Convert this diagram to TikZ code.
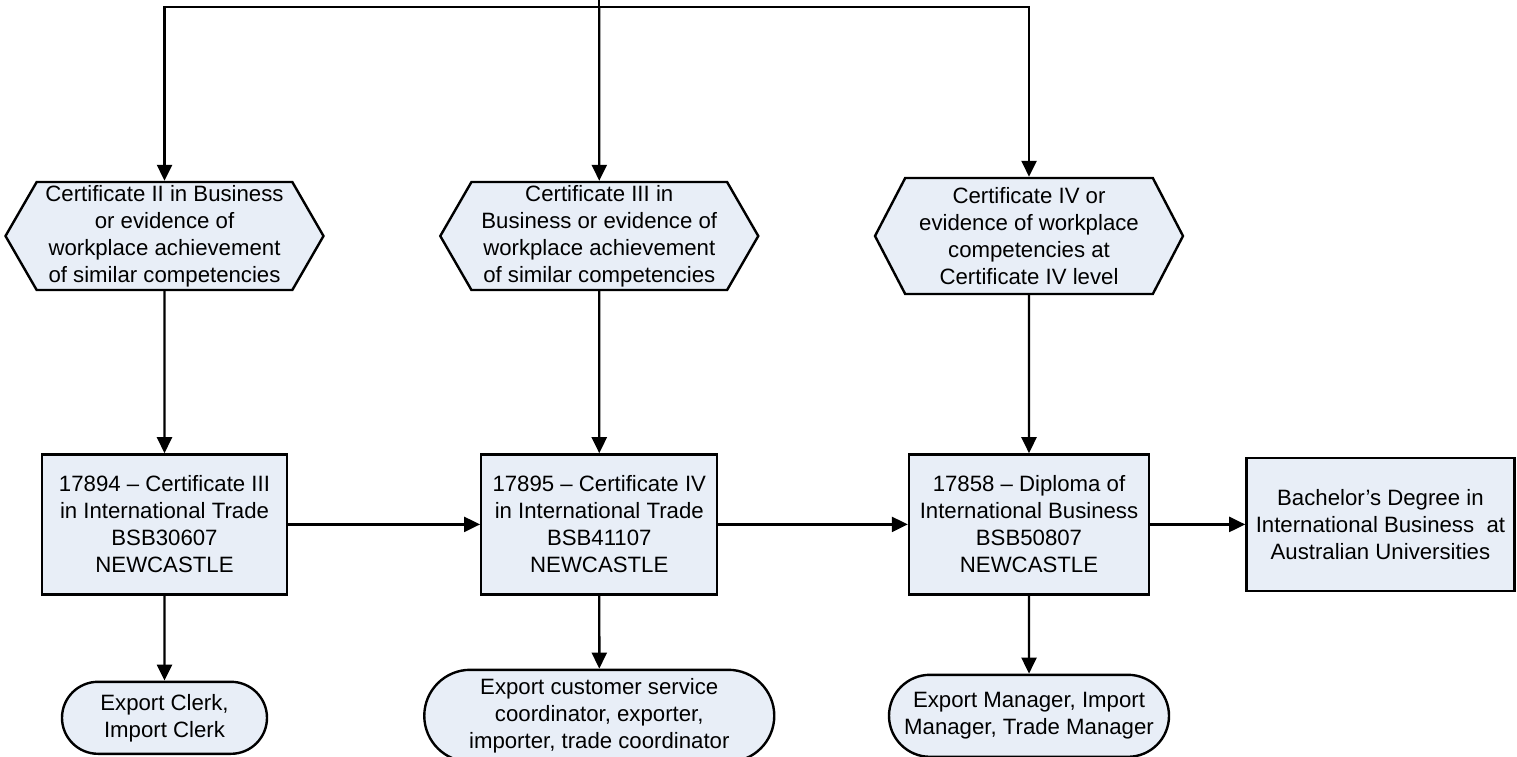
\documentclass[tikz,border=0pt]{standalone}
\usepackage{fontspec}
\setmainfont{Liberation Sans}
\usetikzlibrary{arrows.meta,positioning,shapes.symbols,shapes.misc}
\definecolor{Ink}{HTML}{000000}
\definecolor{Pale}{HTML}{E8EEF7}

\begin{document}
\begin{tikzpicture}[
  x=1pt,y=1pt,
  font=\fontsize{11.1pt}{13.5pt}\selectfont,
  entry/.style={signal,signal to=west and east,signal pointer angle=120,draw=Ink,fill=Pale,line width=1.2pt,minimum width=159pt,minimum height=54pt,inner sep=0pt,align=center},
  course/.style={rectangle,draw=Ink,fill=Pale,line width=1.2pt,minimum height=70pt,inner sep=0pt,align=center},
  job/.style={rounded rectangle,draw=Ink,fill=Pale,line width=1.2pt,inner sep=0pt,align=center},
  arrow/.style={-{Triangle[length=8pt,width=7.5pt]},line width=1.2pt,draw=Ink}
]
\useasboundingbox (0,0) rectangle (758.5,-378);
\node[entry] (pre1) at (82.25,-118) {Certificate II in Business\\or evidence of\\workplace achievement\\of similar competencies};
\node[entry,right=57pt of pre1] (pre2) {Certificate III in\\Business or evidence of\\workplace achievement\\of similar competencies};
\node[entry,right=57pt of pre2,minimum width=154pt,minimum height=58pt,signal pointer angle=125] (pre3) {Certificate IV or\\evidence of workplace\\competencies at\\Certificate IV level};
\node[course,below=81pt of pre1,minimum width=122.5pt] (cert3) {17894 -- Certificate III\\in International Trade\\BSB30607\\NEWCASTLE};
\node[course,below=81pt of pre2,minimum width=118pt] (cert4) {17895 -- Certificate IV\\in International Trade\\BSB41107\\NEWCASTLE};
\node[course,below=79pt of pre3,minimum width=120pt] (dip) {17858 -- Diploma of\\International Business\\BSB50807\\NEWCASTLE};
\node[course,right=47.5pt of dip,minimum width=134pt,minimum height=66.5pt] (bach) {Bachelor’s Degree in\\International Business~ at\\Australian Universities};
\node[job,below=42.5pt of cert3,minimum width=102.5pt,minimum height=36pt] (job1) {Export Clerk,\\Import Clerk};
\node[job,below=36.5pt of cert4,minimum width=175pt,minimum height=46pt] (job2) {Export customer service\\coordinator, exporter,\\importer, trade coordinator};
\node[job,below=39pt of dip,minimum width=140pt,minimum height=41pt] (job3) {Export Manager, Import\\Manager, Trade Manager};
% feed from above
\coordinate (feed) at (pre2 |- 0,0);
\coordinate (bus) at (pre2 |- 0,-3.5);
\draw[line width=1.2pt] (feed) -- (bus);
\draw[arrow] (bus) -| (pre1);
\draw[arrow] (bus) -- (pre2);
\draw[arrow] (bus) -| (pre3);
\draw[arrow] (pre1) -- (cert3);
\draw[arrow] (pre2) -- (cert4);
\draw[arrow] (pre3) -- (dip);
\draw[arrow] (cert3) -- (cert4);
\draw[arrow] (cert4) -- (dip);
\draw[arrow] (dip) -- (bach);
\draw[arrow] (cert3) -- (job1);
\draw[arrow] (cert4) -- (job2);
\draw[arrow] (dip) -- (job3);
\end{tikzpicture}
\end{document}
